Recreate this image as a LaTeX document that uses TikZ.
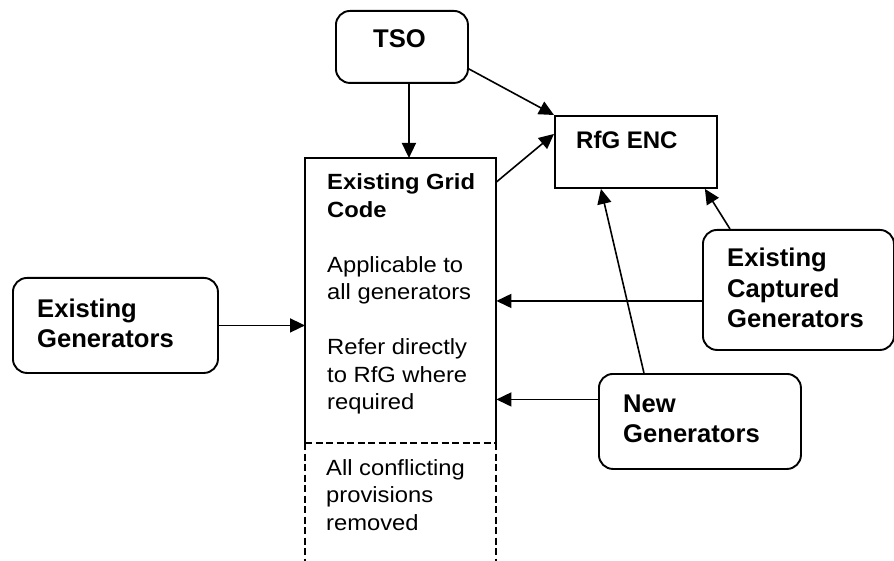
\documentclass[tikz,border=0pt]{standalone}
\usepackage{fontspec}
\setmainfont{Liberation Sans}
\newfontfamily\codefont[FakeStretch=1.08]{Liberation Sans}
\usetikzlibrary{arrows.meta}

\begin{document}
\begin{tikzpicture}[x=1pt, y=-1pt,
  rbox/.style={draw, line width=1.9pt, rounded corners=14pt, inner sep=0pt, anchor=north west},
  sbox/.style={inner sep=0pt, anchor=north west},
  conn/.style={line width=1.6pt, -{Triangle[length=15pt, width=14pt]}},
  lbl/.style={anchor=base west, inner sep=0pt},
  bigfont/.style={font=\bfseries\fontsize{25.6}{30.5}\selectfont},
  codetext/.style={font=\codefont\fontsize{22}{27.5}\selectfont},
  dashline/.style={line width=1.9pt, dash pattern=on 7pt off 3.5pt},
]
\useasboundingbox (0,0) rectangle (894,561);

% boxes
\node[rbox, minimum width=132pt, minimum height=72pt] (tso) at (335,10) {};
\node[sbox, draw, line width=1.9pt, minimum width=162pt, minimum height=72pt] (rfg) at (554,115) {};
\node[sbox, minimum width=191pt, minimum height=285pt] (grid) at (305,158) {};
\node[sbox, minimum width=191pt, minimum height=130pt] (lower) at (305,443) {};
\node[rbox, minimum width=205pt, minimum height=95pt] (eg) at (12,277) {};
\node[rbox, minimum width=191pt, minimum height=120pt] (cap) at (702,229) {};
\node[rbox, minimum width=202pt, minimum height=95pt] (newg) at (598,373) {};

% grid code frame: solid top and sides, dashed bottom
\draw[line width=1.9pt] (grid.south west) -- (grid.north west) -- (grid.north east) -- (grid.south east);
\draw[dashline] (grid.south west) -- (grid.south east);
\draw[dashline] (lower.north west) -- (lower.south west);
\draw[dashline] (lower.north east) -- (lower.south east);

% labels
\node[lbl, bigfont] (tsolbl) at (373,48) {TSO};
\node[lbl, font=\bfseries\fontsize{24}{28}\selectfont] (rfglbl) at (576,149) {RfG ENC};
\node[lbl, bigfont] (eglbl) at (37,317) {\parbox[t]{175pt}{Existing\\Generators}};
\node[lbl, bigfont] (caplbl) at (727,267) {\parbox[t]{165pt}{Existing\\Captured\\Generators}};
\node[lbl, bigfont] (newlbl) at (623,412) {\parbox[t]{170pt}{New\\Generators}};
\node[lbl, codetext] (gridlbl) at (327,190) {\parbox[t]{165pt}{{\bfseries Existing Grid}\\{\bfseries Code}\\[27.5pt]Applicable to\\all generators\\[27.5pt]Refer directly\\to RfG where\\required}};
\node[lbl, codetext] (lowerlbl) at (326,475) {\parbox[t]{165pt}{All conflicting\\provisions\\removed}};

% connectors
\draw[conn] ([xshift=7pt]tso.south) -- ([xshift=7pt]tso.south |- grid.north);
\draw[conn] ([yshift=-22pt]tso.east) -- (rfg.north west);
\draw[conn] ([yshift=-24pt]grid.north east) -- ([yshift=18pt]rfg.west);
\draw[conn] ([xshift=28pt]cap.north west) -- ([xshift=-13pt]rfg.south east);
\draw[conn] ([yshift=-11pt]cap.west) -- ([yshift=-11pt]cap.west -| grid.east);
\draw[conn] ([yshift=22pt]newg.west) -- ([yshift=22pt]newg.west -| grid.east);
\draw[conn] ([xshift=-56pt]newg.north) -- ([xshift=-35pt]rfg.south);
\draw[conn] (eg.east) -- (eg.east -| grid.west);
\end{tikzpicture}
\end{document}
